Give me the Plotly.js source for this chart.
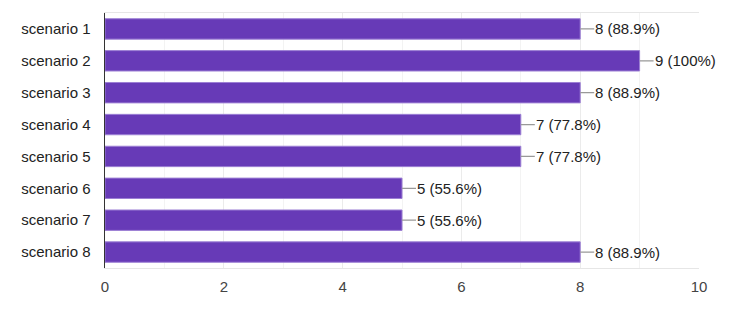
<!DOCTYPE html>
<html><head><meta charset="utf-8">
<script src="https://cdn.plot.ly/plotly-3.0.1.min.js"></script>
<style>html,body{margin:0;padding:0;background:#fff}#chart{width:730px;height:312px}</style>
</head><body><div id="chart"></div>
<script>
const categories = ["scenario 1","scenario 2","scenario 3","scenario 4","scenario 5","scenario 6","scenario 7","scenario 8"];
const counts = [8, 9, 8, 7, 7, 5, 5, 8];
const labels = ["8 (88.9%)","9 (100%)","8 (88.9%)","7 (77.8%)","7 (77.8%)","5 (55.6%)","5 (55.6%)","8 (88.9%)"];
const xTicks = [0, 2, 4, 6, 8, 10];

const font = "Arial, 'Liberation Sans', sans-serif";
const trace = {
  type: "bar", orientation: "h",
  x: counts, y: categories,
  width: 0.64,
  marker: {color: "#673ab7", line: {color: "#9c7fd4", width: 1}},
  hoverinfo: "none"
};
const annotations = counts.map((v, i) => ({
  x: v, y: categories[i], xref: "x", yref: "y",
  text: labels[i], showarrow: true, arrowhead: 0, arrowwidth: 1.2, arrowcolor: "#999",
  ax: 14, ay: 0, xanchor: "left", standoff: 0, startstandoff: 0,
  borderpad: 0, font: {family: font, size: 15, color: "#222"}
}));
const layout = {
  width: 730, height: 312,
  margin: {l: 105, r: 31, t: 13, b: 44},
  paper_bgcolor: "#fff", plot_bgcolor: "#fff",
  font: {family: font, size: 15, color: "#222"},
  showlegend: false,
  bargap: 0.36,
  xaxis: {
    range: [0, 10], tickvals: xTicks, ticktext: xTicks.map(String),
    showgrid: true, gridcolor: "#ebebeb", gridwidth: 1,
    minor: {dtick: 1, showgrid: true, gridcolor: "#f3f3f3"},
    zeroline: false, showline: true, linecolor: "#e6e6e6", mirror: true,
    ticks: "", tickfont: {family: font, size: 15, color: "#444"}, ticklabelstandoff: 5
  },
  yaxis: {
    autorange: "reversed", type: "category",
    showgrid: false, zeroline: false,
    showline: true, linecolor: "#333", linewidth: 1.5,
    ticks: "", ticklabelstandoff: 10,
    tickfont: {family: font, size: 15, color: "#222"}
  },
  annotations: annotations
};
Plotly.newPlot("chart", [trace], layout, {displayModeBar: false, staticPlot: true});
</script></body></html>
